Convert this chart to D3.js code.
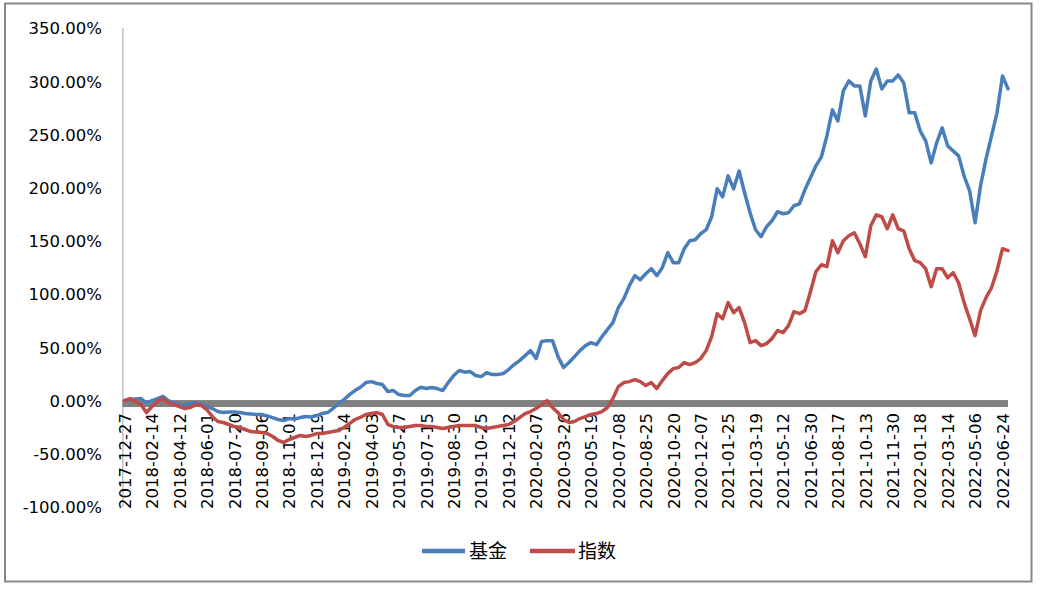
<!DOCTYPE html>
<html>
<head>
<meta charset="utf-8">
<script src="https://cdn.jsdelivr.net/npm/d3@7"></script>
<style>
  html, body { margin: 0; padding: 0; background: #fff; }
  svg { display: block; }
</style>
</head>
<body>
<svg id="chart" width="1040" height="589"></svg>
<script>
// Tick labels on the category axis (one every 5 samples)
const tickLabels = [
  "2017-12-27","2018-02-14","2018-04-12","2018-06-01","2018-07-20","2018-09-06",
  "2018-11-01","2018-12-19","2019-02-14","2019-04-03","2019-05-27","2019-07-15",
  "2019-08-30","2019-10-25","2019-12-12","2020-02-07","2020-03-26","2020-05-19",
  "2020-07-08","2020-08-25","2020-10-20","2020-12-07","2021-01-25","2021-03-19",
  "2021-05-12","2021-06-30","2021-08-17","2021-10-13","2021-11-30","2022-01-18",
  "2022-03-14","2022-05-06","2022-06-24"
];
const samplesPerTick = 5;

// Cumulative return (%) sampled along the category axis
const fundValues = [
  0,0.9,1.4,1.9,-2.3,0,1.9,3.8,0,-1.9,
  -3.8,-4.7,-2.8,-1.9,-3.8,-5.6,-7.5,-10.3,-11.3,-10.8,
  -10.8,-11.3,-12.2,-12.7,-13.1,-13.1,-14.5,-16,-17.8,-18.8,
  -16.9,-17.4,-16,-15,-15.5,-14.1,-12.2,-11.3,-7.5,-2.8,
  0.9,5.6,9.4,12.5,16.9,17.8,16,15,8.4,9.4,
  5.6,4.7,4.7,9.4,12.5,11.3,12.2,11.3,9.4,16.9,
  23.5,28.2,26.7,27.2,23.5,22.5,26.3,24.4,24.4,25.3,
  29.1,33.8,37.5,42.2,46.9,39.4,55.4,56.3,56.3,41.3,
  31,35.7,41.3,46.9,51.6,54.4,52.5,60,66.6,73.2,
  87.3,95.7,107.9,117.3,113.5,119.2,123.9,117.3,124.8,138.9,
  129.5,129.5,142.6,150.1,151.1,156.7,160.5,172.7,199,191.4,
  211.1,198.9,215.7,195.2,176.4,160.5,153.9,163.3,168.9,177.4,
  175.5,176.4,183,184.9,198,209.3,220.5,229,248.7,273.1,
  262.7,290.9,300.3,295.6,295.6,267.4,300.3,311.5,292.8,300.3,
  300.3,305.9,298.4,270.3,270.3,253.4,244,223.3,242.1,256.2,
  239.3,234.6,229.9,211.1,197.1,167,201.8,227.1,248.7,270.3,
  305,292.8
];
const indexValues = [
  0,1.9,-0.9,-3.8,-11.3,-5.6,-0.9,1.9,-1.9,-3.8,
  -5.6,-7.5,-6.6,-3.8,-4.7,-8.4,-15,-19.7,-20.6,-22.5,
  -24.4,-25.3,-27.2,-29.1,-29.6,-30,-31,-33.8,-37.5,-39.4,
  -36.6,-34.7,-32.8,-33.8,-32.8,-31,-31,-30,-29.1,-28.2,
  -25.3,-21.6,-17.8,-15.7,-13.1,-12.2,-11.3,-13.1,-22.5,-24.4,
  -25.3,-25.3,-24.4,-23.5,-23.5,-24.4,-24.4,-25.3,-26.3,-25.3,
  -24.4,-23.5,-23.5,-23.5,-23.5,-25.3,-26.3,-25.3,-24.4,-23.5,
  -22.5,-19.7,-16,-12.2,-10.3,-7.5,-3.8,0,-6.6,-11.3,
  -17.8,-20.6,-19.7,-16.9,-15,-13.1,-12.2,-10.3,-6.6,1.9,
  13.1,16.9,17.8,19.7,17.8,14.1,16.9,11.3,18.8,25.3,
  30,31,35.7,33.8,35.7,39.4,46.9,60.1,81.6,76.9,
  92,82.6,87.3,73.2,54.4,56.3,51.6,53.5,58.2,65.7,
  63.8,70.4,83.5,81.6,84.5,102.3,121.1,127.6,125.8,150.1,
  138.9,150.1,154.8,157.6,147.3,135.1,164.2,174.5,172.7,161.4,
  174.5,161.4,159.5,142.6,131.4,129.5,123.9,107,123.9,123.9,
  115.4,120.1,110.7,92,76.9,61,84.5,96.7,106,122,
  142.6,140.8
];
const yTicks = [350,300,250,200,150,100,50,0,-50,-100];
const seriesNames = ["基金","指数"];
const seriesColors = ["#4A7EBB","#BE4B48"];

const svg = d3.select("#chart");

// outer frame
svg.append("rect")
  .attr("x",5).attr("y",3.5).attr("width",1026.5).attr("height",578)
  .attr("fill","#fff").attr("stroke","#888").attr("stroke-width",2);

const lastTickIdx = (tickLabels.length-1)*samplesPerTick;
const x = d3.scaleLinear().domain([0,lastTickIdx]).range([124.5,1002.5]);
const y = d3.scaleLinear().domain([-100,350]).range([507,28]);

// y axis line
svg.append("line")
  .attr("x1",122.8).attr("x2",122.8).attr("y1",y(350)).attr("y2",y(-100))
  .attr("stroke","#BFBFBF").attr("stroke-width",1.5);

// y tick labels
const yAxis = d3.axisLeft(y).tickValues(yTicks).tickSize(0)
  .tickFormat(d => d.toFixed(2)+"%");
const gy = svg.append("g").attr("transform","translate(102,0)").call(yAxis);
gy.select(".domain").remove();
gy.selectAll("text")
  .attr("x",0).attr("dy","0.35em")
  .style("font-family","'DejaVu Sans', sans-serif")
  .style("font-size","16.5px").attr("fill","#000").attr("text-anchor","end");

// thick category axis bar at zero
svg.append("rect")
  .attr("x",122.5).attr("width",1008-122.5)
  .attr("y",y(0)-0.5).attr("height",7)
  .attr("fill","#808080");

// x tick labels
const xTickIdx = tickLabels.map((d,i)=>i*samplesPerTick);
const xAxis = d3.axisBottom(x).tickValues(xTickIdx).tickSize(0)
  .tickFormat((d,i)=>tickLabels[i]);
const gx = svg.append("g").attr("transform","translate(0,413)").call(xAxis);
gx.select(".domain").remove();
gx.selectAll("text")
  .attr("y",0).attr("x",0).attr("dy","0.35em")
  .attr("transform","rotate(-90)")
  .attr("text-anchor","end")
  .style("font-family","'DejaVu Sans', sans-serif")
  .style("font-size","16.5px").attr("fill","#000");

// lines
const line = d3.line().x((d,i)=>x(i)).y(d=>y(d));
[fundValues, indexValues].forEach((vals, k) => {
  svg.append("path")
    .datum(vals)
    .attr("d", line)
    .attr("fill","none")
    .attr("stroke", seriesColors[k])
    .attr("stroke-width",3.5)
    .attr("stroke-linejoin","round")
    .attr("stroke-linecap","round");
});

// legend
const legendItems = [{x0:422, x1:465, tx:469},{x0:530, x1:575, tx:578}];
legendItems.forEach((it,k)=>{
  svg.append("line").attr("x1",it.x0).attr("x2",it.x1)
    .attr("y1",551).attr("y2",551)
    .attr("stroke",seriesColors[k]).attr("stroke-width",4.5);
  svg.append("text").attr("x",it.tx).attr("y",551).attr("dy","0.35em")
    .style("font-family","'Noto Sans CJK SC', sans-serif")
    .style("font-size","19px").attr("fill","#000")
    .text(seriesNames[k]);
});
</script>
</body>
</html>
